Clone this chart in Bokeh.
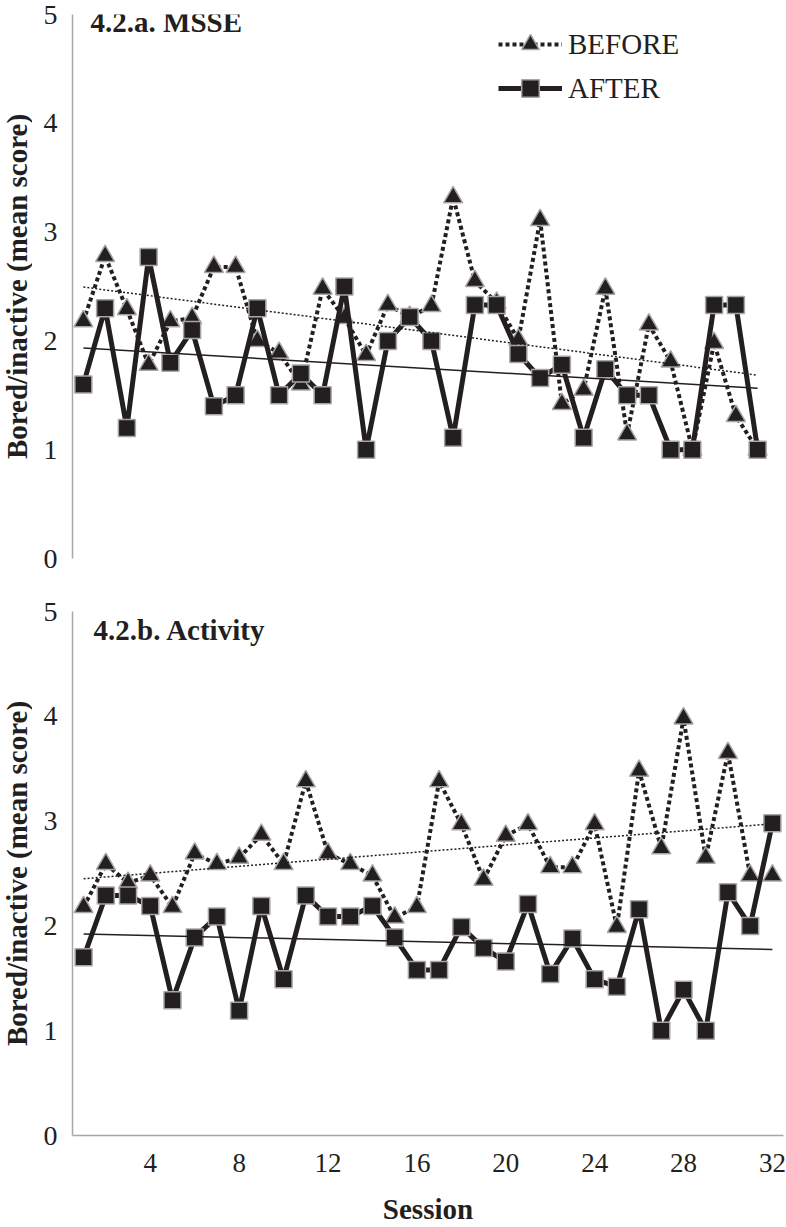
import numpy as np
from bokeh.plotting import figure
from bokeh.models import FixedTicker, Label, Legend, LegendItem, Range1d
from bokeh.layouts import column, row
from bokeh.embed import file_html
from bokeh.resources import INLINE

# ---------------- data ----------------
sessions = list(range(1, 33))

msse_before = [2.18, 2.78, 2.29, 1.78, 2.18, 2.21, 2.68, 2.68, 2.00, 1.89,
               1.60, 2.48, 2.21, 1.87, 2.33, 2.22, 2.32, 3.32, 2.55, 2.35,
               2.01, 3.11, 1.42, 1.55, 2.48, 1.14, 2.15, 1.81, 1.00, 1.98,
               1.31, 1.00]
msse_after = [1.60, 2.30, 1.20, 2.77, 1.80, 2.10, 1.40, 1.50, 2.30, 1.50,
              1.70, 1.50, 2.50, 1.00, 2.00, 2.22, 2.00, 1.11, 2.33, 2.33,
              1.88, 1.66, 1.78, 1.11, 1.74, 1.50, 1.50, 1.00, 1.00, 2.33,
              2.33, 1.00]

activity_before = [2.18, 2.59, 2.41, 2.48, 2.18, 2.69, 2.59, 2.65, 2.87, 2.59,
                   3.38, 2.69, 2.59, 2.48, 2.08, 2.18, 3.38, 2.97, 2.44, 2.86,
                   2.97, 2.56, 2.56, 2.97, 1.99, 3.48, 2.74, 3.98, 2.65, 3.65,
                   2.48, 2.48]
activity_after = [1.70, 2.29, 2.29, 2.19, 1.29, 1.89, 2.09, 1.19, 2.19, 1.49,
                  2.29, 2.09, 2.09, 2.19, 1.89, 1.58, 1.58, 1.99, 1.79, 1.66,
                  2.21, 1.54, 1.88, 1.49, 1.42, 2.16, 1.00, 1.39, 1.00, 2.32,
                  2.00, 2.98]

x_ticks = [4, 8, 12, 16, 20, 24, 28, 32]
y_ticks = [0, 1, 2, 3, 4, 5]
series_labels = ["BEFORE", "AFTER"]
panel_titles = ["4.2.a. MSSE", "4.2.b. Activity"]
y_title = "Bored/inactive (mean score)"
x_title = "Session"

# ---------------- style ----------------
INK = "#231f20"
GRAY = "#a6a6a6"
FONT = "Liberation Serif"
TITLE_W = 32


def trend(xs, ys):
    k, b = np.polyfit(np.array(xs, float), np.array(ys, float), 1)
    xe = [xs[0], xs[-1]]
    return xe, [k * xe[0] + b, k * xe[1] + b]


def title_strip(height, top, bottom):
    t = figure(width=TITLE_W, height=height, output_backend="svg",
               toolbar_location=None, x_range=Range1d(0, 1),
               y_range=Range1d(0, 5), x_axis_location=None,
               y_axis_location=None, min_border_left=0, min_border_right=0,
               min_border_top=top, min_border_bottom=bottom)
    t.outline_line_color = None
    t.xgrid.visible = False
    t.ygrid.visible = False
    t.add_layout(Label(x=0.5, y=2.5, text=y_title, angle=np.pi / 2,
                       text_font=FONT, text_font_style="bold",
                       text_font_size="29px", text_color=INK,
                       text_align="center", text_baseline="middle"))
    return t


def make_panel(before, after, title, width, height, borders, show_x, title_xy):
    p = figure(width=width, height=height, output_backend="svg",
               toolbar_location=None,
               x_range=Range1d(0.5, 32.5), y_range=Range1d(0, 5),
               x_axis_location="below" if show_x else None,
               min_border_left=borders[0], min_border_right=borders[1],
               min_border_top=borders[2], min_border_bottom=borders[3])
    p.outline_line_color = None
    p.xgrid.visible = False
    p.ygrid.visible = False
    p.background_fill_color = "white"
    p.border_fill_color = "white"

    yax = p.yaxis[0]
    yax.ticker = FixedTicker(ticks=y_ticks)
    yax.axis_line_color = GRAY
    yax.axis_line_width = 1.5
    yax.major_tick_line_color = None
    yax.minor_tick_line_color = None
    yax.major_label_text_font = FONT
    yax.major_label_text_font_size = "28px"
    yax.major_label_text_color = INK
    yax.major_label_standoff = 9

    if show_x:
        xax = p.xaxis[0]
        xax.ticker = FixedTicker(ticks=x_ticks)
        xax.axis_line_color = GRAY
        xax.axis_line_width = 1.5
        xax.major_tick_line_color = None
        xax.minor_tick_line_color = None
        xax.major_label_text_font = FONT
        xax.major_label_text_font_size = "27px"
        xax.major_label_text_color = INK
        xax.major_label_standoff = 12
        xax.axis_label = x_title
        xax.axis_label_text_font = FONT
        xax.axis_label_text_font_style = "bold"
        xax.axis_label_text_font_size = "29px"
        xax.axis_label_text_color = INK
        xax.axis_label_standoff = 18

    bl = p.line(sessions, before, line_color=INK, line_width=4,
                line_dash="4 3", line_cap="butt")
    bs = p.scatter(sessions, before, marker="triangle", size=19,
                   fill_color=INK, line_color=GRAY, line_width=1.5)
    al = p.line(sessions, after, line_color=INK, line_width=5)
    asq = p.scatter(sessions, after, marker="square", size=17,
                    fill_color=INK, line_color=GRAY, line_width=1.5)

    tx, ty = trend(sessions, before)
    p.line(tx, ty, line_color=INK, line_width=1.5, line_dash="2 2")
    tx, ty = trend(sessions, after)
    p.line(tx, ty, line_color=INK, line_width=1.5)

    p.add_layout(Label(x=title_xy[0], y=title_xy[1], text=title,
                       text_font=FONT, text_font_style="bold",
                       text_font_size="29px", text_color=INK,
                       text_align="left", text_baseline="middle"))
    return p, (bl, bs, al, asq)


p1, r1 = make_panel(msse_before, msse_after, panel_titles[0],
                    width=786 - TITLE_W, height=590,
                    borders=(72 - TITLE_W, 18, 14, 32),
                    show_x=False, title_xy=(1.33, 4.93))
legend = Legend(items=[LegendItem(label=series_labels[0], renderers=[r1[0], r1[1]]),
                       LegendItem(label=series_labels[1], renderers=[r1[2], r1[3]])],
                location=(426, 448), orientation="vertical",
                glyph_width=64, glyph_height=44, label_height=44,
                label_standoff=6, spacing=0, padding=0, margin=0,
                label_text_font=FONT, label_text_font_size="29px",
                label_text_color=INK,
                background_fill_alpha=0, border_line_alpha=0)
p1.add_layout(legend)
t1 = title_strip(590, 14, 32)

p2, _ = make_panel(activity_before, activity_after, panel_titles[1],
                   width=786 - TITLE_W, height=637,
                   borders=(72 - TITLE_W, 3, 21, 91),
                   show_x=True, title_xy=(1.45, 4.82))
t2 = title_strip(637, 21, 91)

layout = column(row(t1, p1, spacing=0), row(t2, p2, spacing=0), spacing=0)
open("out.html", "w").write(file_html(layout, INLINE))
